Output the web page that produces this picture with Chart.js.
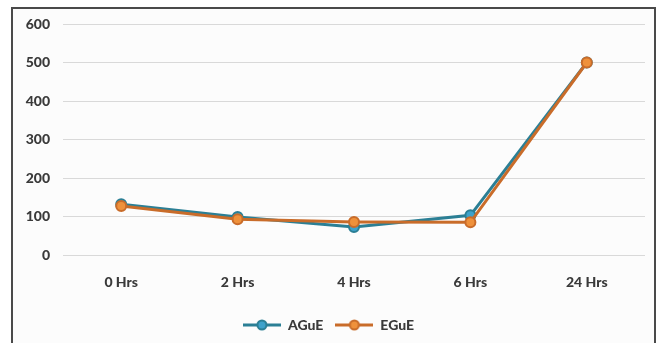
<!DOCTYPE html>
<html>
<head>
<meta charset="utf-8">
<script src="https://cdn.jsdelivr.net/npm/chart.js@4"></script>
<style>
  html, body { margin: 0; padding: 0; background: #ffffff; }
  #wrap { position: relative; width: 659px; height: 343px; overflow: hidden; }
  #frame { position: absolute; left: 11px; top: 7px; width: 645px; height: 360px; border: 2px solid #4a4a4a; background: #fcfcfc; box-sizing: border-box; }
  canvas { position: absolute; left: 0; top: 0; }
</style>
</head>
<body>
<div id="wrap">
  <div id="frame"></div>
  <canvas id="c" width="659" height="343"></canvas>
</div>
<script>
const categories = ['0 Hrs', '2 Hrs', '4 Hrs', '6 Hrs', '24 Hrs'];
const ague = [132, 99, 73, 103, 500];
const egue = [127, 93, 86, 85, 500];
const yTicks = [0, 100, 200, 300, 400, 500, 600];

const font = { family: 'Lato', weight: 900, size: 14 };
const textColor = '#3a3a3a';

function legendIcon(lineColor, fillColor) {
  const cv = document.createElement('canvas');
  cv.width = 38; cv.height = 12;
  const g = cv.getContext('2d');
  g.strokeStyle = lineColor; g.lineWidth = 3;
  g.beginPath(); g.moveTo(0, 6); g.lineTo(38, 6); g.stroke();
  g.beginPath(); g.arc(19, 6, 4.5, 0, Math.PI * 2);
  g.fillStyle = fillColor; g.fill();
  g.lineWidth = 2; g.strokeStyle = lineColor; g.stroke();
  return cv;
}

const series = [
  { label: 'AGuE', data: ague, line: '#2b7f95', fill: '#3ea2cb', order: 2 },
  { label: 'EGuE', data: egue, line: '#c96c2a', fill: '#ef913b', order: 1 }
];

new Chart(document.getElementById('c'), {
  type: 'line',
  data: {
    labels: categories,
    datasets: series.map(s => ({
      label: s.label,
      data: s.data,
      order: s.order,
      borderColor: s.line,
      backgroundColor: s.fill,
      pointBackgroundColor: s.fill,
      pointBorderColor: s.line,
      pointBorderWidth: 2,
      pointRadius: 5,
      borderWidth: 3,
      tension: 0,
      pointStyle: 'circle'
    }))
  },
  options: {
    responsive: false,
    animation: false,
    layout: { padding: { left: 12, right: 14, top: 24, bottom: 1 } },
    plugins: {
      tooltip: { enabled: false },
      legend: {
        position: 'bottom',
        labels: {
          usePointStyle: true,
          pointStyleWidth: 38,
          color: textColor,
          font: font,
          padding: 12,
          generateLabels: (chart) => series.map((s, i) => ({
            text: s.label,
            pointStyle: legendIcon(s.line, s.fill),
            fillStyle: s.fill,
            strokeStyle: s.line,
            lineWidth: 0,
            fontColor: textColor,
            datasetIndex: i,
            hidden: false
          }))
        }
      }
    },
    scales: {
      x: {
        offset: true,
        grid: { display: false, drawTicks: false },
        border: { display: false },
        ticks: { color: textColor, font: font, padding: 19 },
        afterFit: (a) => { a.height = 51; }
      },
      y: {
        min: 0, max: 600,
        afterBuildTicks: (a) => { a.ticks = yTicks.map(v => ({ value: v })); },
        grid: { color: '#d9d9d9', lineWidth: 1, drawTicks: false },
        border: { display: false },
        ticks: { color: textColor, font: font, padding: 13 },
        afterFit: (a) => { a.width = 51; }
      }
    }
  }
});
</script>
</body>
</html>
